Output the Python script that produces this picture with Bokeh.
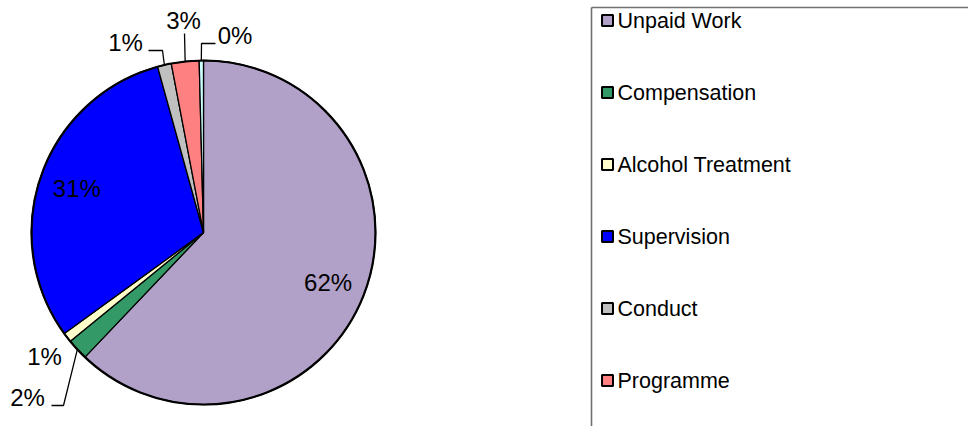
import math
from bokeh.plotting import figure
from bokeh.models import Range1d
from bokeh.core.properties import value
from bokeh.embed import file_html
from bokeh.resources import INLINE

# ---- data ----
categories = ["Unpaid Work", "Compensation", "Alcohol Treatment", "Supervision",
              "Conduct", "Programme", "Other"]
shares = [62.1, 2.0, 0.9, 30.7, 1.3, 2.6, 0.4]
colors = ["#B1A0C7", "#339966", "#FFFFCC", "#0000FF", "#C0C0C0", "#FF8080", "#CCFFFF"]
legend_count = 6  # the seventh entry falls below the visible area

# ---- layout (picture pixel -> data coordinates) ----
W, H = 968, 426


def X(px):
    return px


def Y(py):
    return H - py


cx, cy, R = X(203), Y(232), 172

p = figure(width=W, height=H, x_range=Range1d(0, W), y_range=Range1d(0, H),
           output_backend="svg", toolbar_location=None, min_border=0,
           outline_line_color=None, background_fill_color="white",
           border_fill_color="white")
p.axis.visible = False
p.grid.visible = False

total = sum(shares)
cum = [0.0]
for s in shares:
    cum.append(cum[-1] + s / total)

starts = [math.pi / 2 - 2 * math.pi * cum[i + 1] for i in range(len(shares))]
ends = [math.pi / 2 - 2 * math.pi * cum[i] for i in range(len(shares))]
p.wedge(x=[cx] * len(shares), y=[cy] * len(shares), radius=R,
        start_angle=starts, end_angle=ends, direction="anticlock",
        fill_color=colors, line_color="black", line_width=1.3)
p.circle(x=[cx], y=[cy], radius=R, fill_color=None, line_color="black", line_width=2.2)


def edge_point(i, rr=R):
    th = 2 * math.pi * (cum[i] + cum[i + 1]) / 2  # clockwise from top
    return cx + rr * math.sin(th), cy + rr * math.cos(th)


labels = [f"{round(s)}%" for s in shares]

# placement of labels for the small slices (picture pixels) and leader elbows
outside_pos = {1: (27, 397), 2: (44, 356), 4: (125, 42), 5: (183, 20), 6: (234.5, 35)}
leaders = {1: [(51, 405), (63, 405)], 4: [(148, 50), (162, 50)],
           5: [(184, 33)], 6: [(215, 43), (201, 43)]}

lx, ly = [], []
for i, s in enumerate(shares):
    if i in outside_pos:
        px_, py_ = outside_pos[i]
        lx.append(X(px_))
        ly.append(Y(py_))
    else:
        ex, ey = edge_point(i, 0.78 * R)
        lx.append(ex)
        ly.append(ey)

p.text(x=lx, y=ly, text=labels, text_align="center", text_baseline="middle",
       text_font=value("Liberation Sans"), text_font_size="24px", text_color="black")

mx, my = [], []
for i, pts in leaders.items():
    ex, ey = edge_point(i)
    mx.append([X(a) for a, b in pts] + [ex])
    my.append([Y(b) for a, b in pts] + [ey])
p.multi_line(xs=mx, ys=my, line_color="black", line_width=1.3)

# ---- legend ----
box_left, box_top = X(591), Y(7)
p.line(x=[box_left, box_left], y=[box_top, -5], line_color="#707070", line_width=1.6)
p.line(x=[box_left, W + 5], y=[box_top, box_top], line_color="#707070", line_width=1.6)

leg_y = [Y(20 + 72 * k) for k in range(legend_count)]
p.rect(x=[X(607)] * legend_count, y=leg_y, width=11, height=11,
       fill_color=colors[:legend_count], line_color="black", line_width=2)
p.text(x=[X(617)] * legend_count, y=leg_y, text=categories[:legend_count],
       text_align="left", text_baseline="middle",
       text_font=value("Liberation Sans"), text_font_size="21.5px", text_color="black")

open("out.html", "w").write(file_html(p, INLINE))
